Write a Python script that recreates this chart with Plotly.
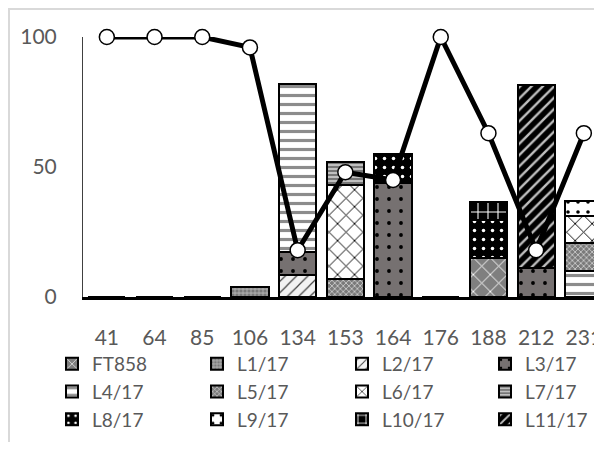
import plotly.graph_objects as go

categories = ["41", "64", "85", "106", "134", "153", "164", "176", "188", "212", "231"]
series_names = ["FT858", "L1/17", "L2/17", "L3/17", "L4/17", "L5/17",
                "L6/17", "L7/17", "L8/17", "L9/17", "L10/17", "L11/17"]

ft858 = [0, 0, 0, 0, 0, 0, 0, 0, 15, 0, 0]
l1_17 = [0, 0, 0, 4, 0, 0, 0, 0, 0, 0, 0]
l2_17 = [0, 0, 0, 0, 8.5, 0, 0, 0, 0, 0, 0]
l3_17 = [0, 0, 0, 0, 9, 0, 44, 0, 0, 11, 0]
l4_17 = [0, 0, 0, 0, 64.5, 0, 0, 0, 0, 0, 10]
l5_17 = [0, 0, 0, 0, 0, 7, 0, 0, 0, 0, 10.8]
l6_17 = [0, 0, 0, 0, 0, 36, 0, 0, 0, 0, 10.4]
l7_17 = [0, 0, 0, 0, 0, 9, 0, 0, 0, 0, 0]
l8_17 = [0, 0, 0, 0, 0, 0, 11, 0, 14.5, 0, 0]
l9_17 = [0, 0, 0, 0, 0, 0, 0, 0, 0, 0, 5.7]
l10_17 = [0, 0, 0, 0, 0, 0, 0, 0, 7, 0, 0]
l11_17 = [0, 0, 0, 0, 0, 0, 0, 0, 0, 70.5, 0]

line_values = [100, 100, 100, 96, 18, 48, 45, 100, 63, 18, 63]

series_values = [ft858, l1_17, l2_17, l3_17, l4_17, l5_17,
                 l6_17, l7_17, l8_17, l9_17, l10_17, l11_17]

# styles: (background colour, pattern shape, pattern colour, size, solidity)
styles = [
    ("#7f7f7f", "x", "#ffffff", 12, 0.15),
    ("#a6a6a6", ".", "#7a7a7a", 4, 0.5),
    ("#f2f2f2", "/", "#404040", 8, 0.15),
    ("#767171", ".", "#000000", 12, 0.08),
    ("#ffffff", "-", "#8c8c8c", 9, 0.35),
    ("#7a7a7a", "x", "#e6e6e6", 4, 0.3),
    ("#ffffff", "x", "#000000", 12, 0.15),
    ("#bfbfbf", "-", "#6e6e6e", 4, 0.45),
    ("#000000", ".", "#ffffff", 9, 0.12),
    ("#ffffff", ".", "#000000", 10, 0.1),
    ("#000000", "+", "#ffffff", 10, 0.2),
    ("#000000", "/", "#bfbfbf", 8, 0.3),
]

FONT = "Lato"
TXT = "#595959"

# page is offset by the 8px body margin: work in figure pixels
W, H = 594, 434
L, T = 75, 29
PLOT_BOTTOM = 289
B = H - PLOT_BOTTOM
plot_w = W - L
plot_h = PLOT_BOTTOM - T
band = 47.7
span = plot_w / band

legend_names = ["legend", "legend2", "legend3", "legend4"]

fig = go.Figure()
for i, (name, vals, (bg, shp, fg, sz, sol)) in enumerate(zip(series_names, series_values, styles)):
    fig.add_trace(go.Bar(
        x=categories, y=vals, name=name, legend=legend_names[i % 4],
        marker=dict(color=bg, line=dict(color="#000000", width=2),
                    pattern=dict(shape=shp, fgcolor=fg, bgcolor=bg,
                                 size=sz, solidity=sol, fillmode="replace")),
    ))

fig.add_trace(go.Scatter(
    x=categories, y=line_values, mode="lines+markers", showlegend=False,
    line=dict(color="#000000", width=5),
    marker=dict(size=15, color="#ffffff", line=dict(color="#000000", width=1.5)),
    cliponaxis=False,
))

col_text_x = [84, 229, 374, 517]   # where each legend column's text begins
legend_top = 337

leg_common = dict(orientation="v", xanchor="left", yanchor="top",
                  font=dict(family=FONT, size=19, color=TXT),
                  bgcolor="rgba(0,0,0,0)", traceorder="normal",
                  tracegroupgap=0)
legends = {}
for k, ln in enumerate(legend_names):
    legends[ln] = dict(leg_common, x=(col_text_x[k] - 40 - L) / plot_w,
                       y=(PLOT_BOTTOM - legend_top) / plot_h)

fig.update_layout(
    width=W, height=H,
    margin=dict(l=L, r=0, t=T, b=B, pad=0),
    barmode="stack", bargap=0.22,
    paper_bgcolor="#ffffff", plot_bgcolor="#ffffff",
    font=dict(family=FONT, size=20, color=TXT),
    showlegend=True,
    xaxis=dict(type="category", range=[-0.5, -0.5 + span],
               showline=True, linecolor="#000000", linewidth=3,
               showgrid=False, ticks="", ticklabelstandoff=20,
               tickfont=dict(family=FONT, size=21, color=TXT)),
    yaxis=dict(range=[0, 100], tickvals=[0, 50, 100],
               showline=True, linecolor="#404040", linewidth=1,
               showgrid=False, zeroline=False, ticks="",
               ticklabelstandoff=21,
               tickfont=dict(family=FONT, size=21, color=TXT)),
    **legends,
)

# light chart-area border
fig.add_shape(type="rect", xref="paper", yref="paper",
              x0=(1 - L) / plot_w, x1=1.05,
              y0=(PLOT_BOTTOM - 470) / plot_h, y1=(PLOT_BOTTOM - 1) / plot_h,
              line=dict(color="#d9d9d9", width=2), fillcolor="rgba(0,0,0,0)",
              layer="below")

fig.write_html("out.html")
